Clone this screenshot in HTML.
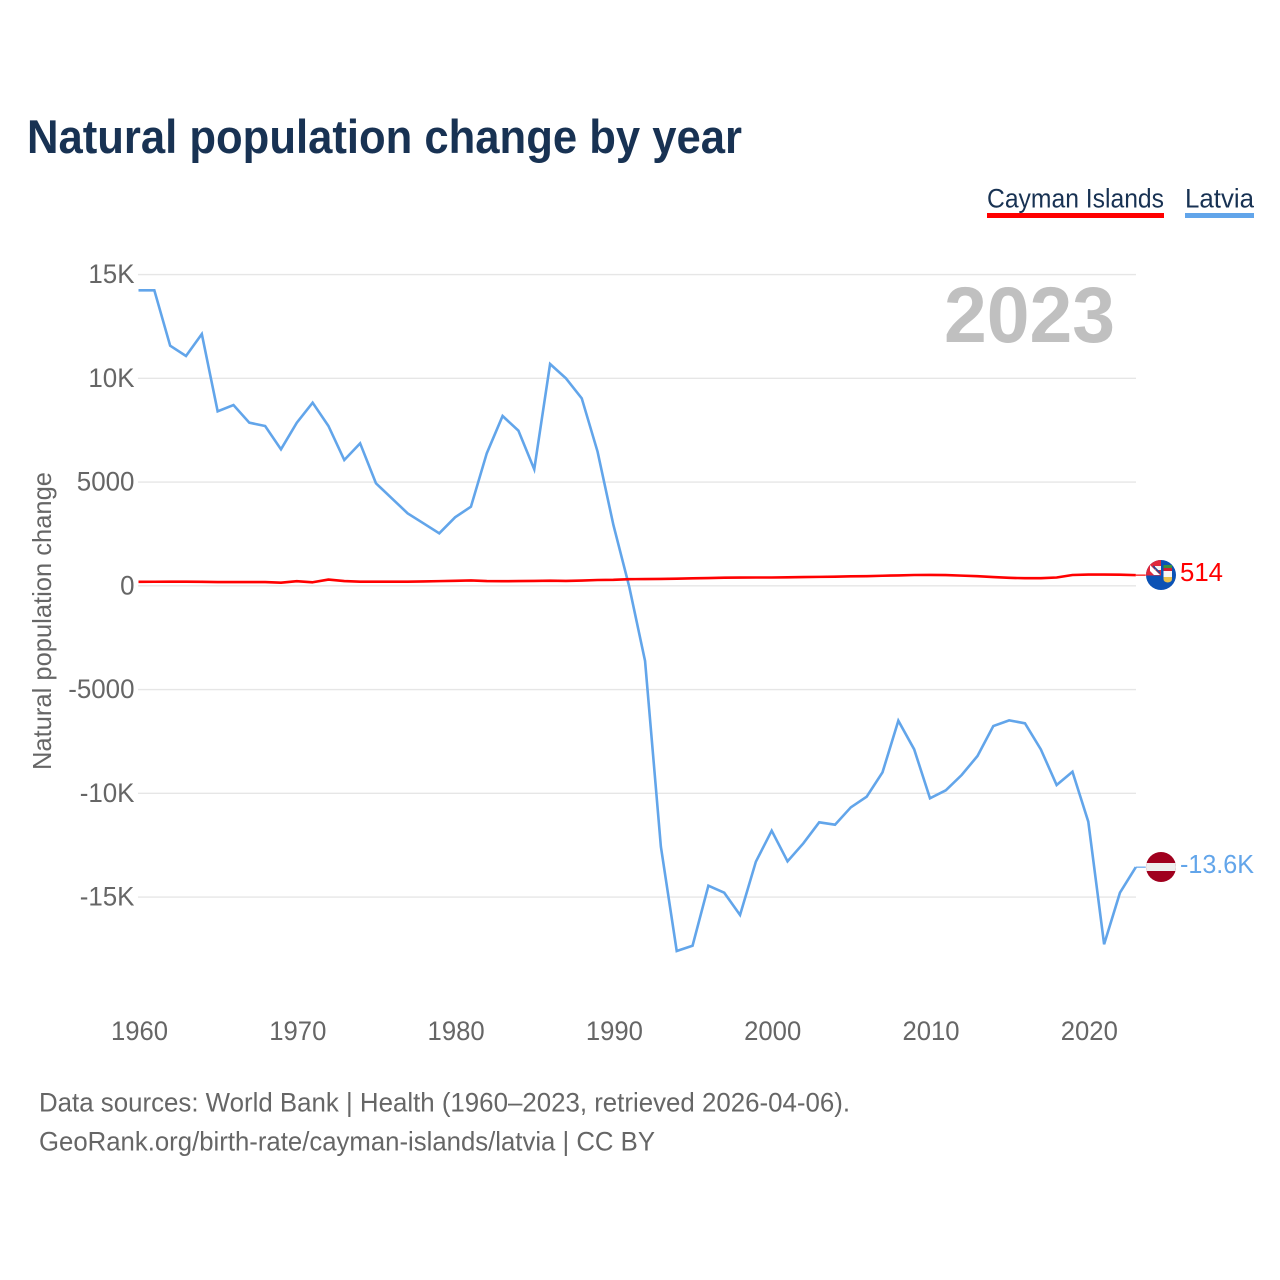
<!DOCTYPE html>
<html lang="en">
<head>
<meta charset="utf-8">
<title>Natural population change by year</title>
<style>
html,body{margin:0;padding:0;background:#fff;width:1280px;height:1280px;overflow:hidden}
svg{display:block;font-family:"Liberation Sans",sans-serif}
</style>
</head>
<body>
<svg id="chart" xmlns="http://www.w3.org/2000/svg" width="1280" height="1280" viewBox="0 0 1280 1280">
  <defs>
    <clipPath id="cayman-clip"><circle cx="1161" cy="575" r="15"/></clipPath>
    <clipPath id="latvia-clip"><circle cx="1161" cy="867" r="15"/></clipPath>
  </defs>
  <rect x="0" y="0" width="1280" height="1280" fill="#ffffff"/>
  <text x="27" y="153" font-size="47" font-weight="700" fill="#183253" textLength="715" lengthAdjust="spacingAndGlyphs">Natural population change by year</text>

  <g>
    <g>
      <text x="987" y="207.5" font-size="27" fill="#183253" textLength="177" lengthAdjust="spacingAndGlyphs">Cayman Islands</text>
      <rect x="987" y="213" width="177" height="5" fill="#ff0000"/>
    </g>
    <g>
      <text x="1185" y="207.5" font-size="27" fill="#183253" textLength="69" lengthAdjust="spacingAndGlyphs">Latvia</text>
      <rect x="1185" y="213" width="69" height="5" fill="#62a5ea"/>
    </g>
  </g>

  <g id="grid"></g>
  <g id="y-ticks"></g>
  <g id="x-ticks"></g>

  <text transform="translate(51 770) rotate(-90)" x="0" y="0" font-size="26" fill="#666666" textLength="298" lengthAdjust="spacingAndGlyphs">Natural population change</text>
  <text x="944" y="342" font-size="79" font-weight="700" fill="#c0c0c0" textLength="171" lengthAdjust="spacingAndGlyphs">2023</text>

  <g id="series"></g>

  <g id="flag-cayman">
    <g clip-path="url(#cayman-clip)">
      <rect x="1145" y="559" width="32" height="32" fill="#0b52b5"/>
      <rect x="1145" y="559" width="16" height="16.5" fill="#e0283c"/>
      <path d="M1150 565 L1160 575 L1154 575 L1150 571 Z" fill="#ffffff"/>
      <rect x="1155" y="566" width="6" height="4" fill="#f4f4f4"/>
      <path d="M1153 566 L1160 573" stroke="#2a4a94" stroke-width="1.6" fill="none"/>
      <path d="M1163.5 565 h8.5 v3 h-8.5 Z" fill="#3c8f3c"/>
      <rect x="1163.5" y="568" width="8.5" height="3" fill="#d02030"/>
      <path d="M1163.5 571 h8.5 v6 h-8.5 Z" fill="#f6f6f6"/>
      <path d="M1163.5 577 h8.5 v2 q0 3 -4.25 3.5 q-4.25 -0.5 -4.25 -3.5 Z" fill="#e8c04a"/>
    </g>
  </g>
  <g id="flag-latvia">
    <g clip-path="url(#latvia-clip)">
      <rect x="1145" y="851" width="32" height="32" fill="#a0001e"/>
      <rect x="1145" y="863" width="32" height="8" fill="#eeeeee"/>
    </g>
  </g>

  <text id="value-cayman" x="1180" y="581" font-size="26" fill="#ff0000" textLength="43" lengthAdjust="spacingAndGlyphs"></text>
  <text id="value-latvia" x="1180" y="873" font-size="26" fill="#62a5ea" textLength="74" lengthAdjust="spacingAndGlyphs"></text>

  <g>
    <text x="39" y="1111.5" font-size="26.5" fill="#666666" textLength="811" lengthAdjust="spacingAndGlyphs">Data sources: World Bank | Health (1960–2023, retrieved 2026-04-06).</text>
    <text x="39" y="1150.5" font-size="26.5" fill="#666666" textLength="616" lengthAdjust="spacingAndGlyphs">GeoRank.org/birth-rate/cayman-islands/latvia | CC BY</text>
  </g>
</svg>

<script>
const years = [1960,1961,1962,1963,1964,1965,1966,1967,1968,1969,
  1970,1971,1972,1973,1974,1975,1976,1977,1978,1979,
  1980,1981,1982,1983,1984,1985,1986,1987,1988,1989,
  1990,1991,1992,1993,1994,1995,1996,1997,1998,1999,
  2000,2001,2002,2003,2004,2005,2006,2007,2008,2009,
  2010,2011,2012,2013,2014,2015,2016,2017,2018,2019,
  2020,2021,2022,2023];
const latviaValues = [14241,14241,11571,11075,12135,8410,8713,7860,7701,6578,
  7860,8824,7701,6063,6867,4940,4217,3494,3012,2530,
  3301,3812,6385,8183,7475,5614,10689,10000,9036,6463,
  2930,-43,-3624,-12573,-17600,-17344,-14453,-14790,-15865,-13296,
  -11802,-13277,-12410,-11398,-11513,-10675,-10164,-8988,-6501,-7880,
  -10241,-9855,-9118,-8202,-6757,-6484,-6627,-7880,-9600,-8959,
  -11368,-17277,-14790,-13560];
const caymanValues = [190,195,200,200,190,180,180,180,180,150,
  220,170,300,230,200,200,200,200,210,225,
  240,260,230,220,230,235,245,235,250,280,
  290,320,325,330,345,360,375,390,395,400,
  400,410,420,430,440,455,465,485,500,520,
  525,515,490,465,420,385,365,365,400,520,
  540,540,535,514];
const yTickValues = [15000,10000,5000,0,-5000,-10000,-15000];
const yTickLabels = ["15K","10K","5000","0","-5000","-10K","-15K"];
const xTickValues = [1960,1970,1980,1990,2000,2010,2020];
const xTickLabels = ["1960","1970","1980","1990","2000","2010","2020"];
const caymanValueLabel = "514";
const latviaValueLabel = "-13.6K";

const NS = "http://www.w3.org/2000/svg";
function xScale(year){ return 138.5 + (year - 1960) * 15.83; }
function yScale(value){ return 585.8 - value * 0.02075; }
function make(tag, attrs, parent){
  const el = document.createElementNS(NS, tag);
  for (const k in attrs) el.setAttribute(k, attrs[k]);
  parent.appendChild(el);
  return el;
}
function narrow(el, factor){
  const len = el.getComputedTextLength();
  el.setAttribute("textLength", (len * factor).toFixed(1));
  el.setAttribute("lengthAdjust", "spacingAndGlyphs");
}

const gridG = document.getElementById("grid");
const yG = document.getElementById("y-ticks");
const xG = document.getElementById("x-ticks");
const seriesG = document.getElementById("series");

yTickValues.forEach(function(v, i){
  const line = make("line", {x1:138, x2:1136, y1:yScale(v), y2:yScale(v), stroke:"#e6e6e6", "stroke-width":1.4}, gridG);
  
  
  const t = make("text", {x:134.5, y:yScale(v) + 8.5, "text-anchor":"end", "font-size":27, fill:"#666666"}, yG);
  
  
  t.textContent = yTickLabels[i];
  narrow(t, 0.96);
});

xTickValues.forEach(function(v, i){
  const t = make("text", {x:xScale(v) + 1, y:1040, "text-anchor":"middle", "font-size":27, fill:"#666666"}, xG);
  
  
  t.textContent = xTickLabels[i];
  narrow(t, 0.95);
});

function pathFor(values){
  return values.map(function(v, i){
    return (i ? "L" : "M") + xScale(years[i]).toFixed(2) + " " + yScale(v).toFixed(2);
  }).join(" ");
}

const latviaLine = make("path", {d:pathFor(latviaValues), fill:"none", stroke:"#62a5ea", "stroke-width":2.6, "stroke-linejoin":"miter"}, seriesG);


const caymanLine = make("path", {d:pathFor(caymanValues), fill:"none", stroke:"#ff0000", "stroke-width":2.6, "stroke-linejoin":"round"}, seriesG);



const lastYear = years[years.length - 1];
const latviaLast = latviaValues[latviaValues.length - 1];
const caymanLast = caymanValues[caymanValues.length - 1];
const latviaLead = make("line", {x1:xScale(lastYear), x2:xScale(lastYear) + 10, y1:yScale(latviaLast), y2:yScale(latviaLast), stroke:"#62a5ea", "stroke-width":1.2}, seriesG);


const caymanLead = make("line", {x1:xScale(lastYear), x2:xScale(lastYear) + 10, y1:yScale(caymanLast), y2:yScale(caymanLast), stroke:"#ff0000", "stroke-width":1.2}, seriesG);



document.getElementById("value-cayman").textContent = caymanValueLabel;
document.getElementById("value-latvia").textContent = latviaValueLabel;
</script>
</body>
</html>
